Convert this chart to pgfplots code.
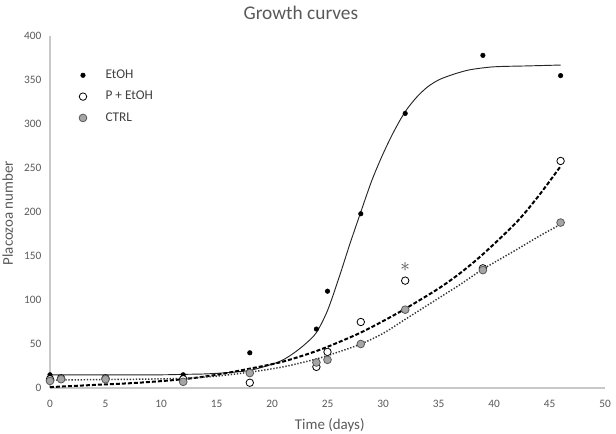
\documentclass[border=0pt]{standalone}
\usepackage{fontspec}
\setmainfont{Carlito}
\usepackage{pgfplots}
\pgfplotsset{compat=1.18}
\definecolor{txt}{HTML}{595959}
\definecolor{legtxt}{HTML}{404040}
\definecolor{axln}{HTML}{C8C8C8}
\definecolor{ctrlfill}{HTML}{A5A5A5}
\definecolor{ctrledge}{HTML}{595959}
\begin{document}
\begin{tikzpicture}
\begin{axis}[
  width=416.25pt, height=264pt, scale only axis,
  xmin=0, xmax=50, ymin=0, ymax=400,
  xtick={0,5,...,50}, ytick={0,50,...,400},
  axis x line*=bottom, axis y line*=left,
  axis line style={axln, line width=0.8pt, -},
  major tick length=0pt,
  tick label style={font=\fontsize{8.5}{10}\selectfont, text=txt},
  /pgf/number format/assume math mode=true,
  xticklabel style={yshift=-5.5pt},
  yticklabel style={xshift=-3pt},
  xlabel={Time (days)},
  ylabel={Placozoa number},
  xlabel style={font=\fontsize{11.2}{13}\selectfont, text=txt, at={(rel axis cs:0.504,-0.105)}, anchor=center},
  ylabel style={font=\fontsize{11.2}{13}\selectfont, text=txt, at={(rel axis cs:-0.076,0.497)}, anchor=center},
  legend style={draw=none, fill=none, at={(rel axis cs:0.052,0.91)}, anchor=north west,
    font=\fontsize{10}{12}\selectfont, text=legtxt, row sep=5pt, inner sep=0pt,
    nodes={inner sep=1pt, text height=7pt, text depth=2pt},
    /tikz/every odd column/.append style={column sep=13pt}},
  legend cell align=left,
  clip=false,
]
% fitted curves
\addplot[black!85, line width=0.7pt, smooth, forget plot] coordinates {
 (0,15) (5,15) (10,15) (12,15.5) (14,16) (16,17.5) (18,20) (20,27) (21,32) (22,40)
 (23,50) (24,63) (25,88) (26,124) (27,163) (28,200) (29,236) (30,266) (31,292)
 (32,314) (33,330) (34,342) (35,350) (36,355) (37,359) (38,362) (40,365) (43,366) (46,367)};
\addplot[black, line width=1.5pt, dash pattern=on 3pt off 1.5pt, smooth, forget plot] coordinates {
 (0,1) (4,3.5) (8,6) (12,10) (15,15) (18,22) (21,30) (24,42) (26,52) (28,63) (30,76)
 (32,90) (35,113) (37,131) (39,152) (42,188) (44,218) (46,252)};
\addplot[black!80, line width=1.1pt, dash pattern=on 1pt off 1.3pt, smooth, forget plot] coordinates {
 (0,9) (4,9.5) (8,10) (12,11) (15,13.5) (18,18) (21,24) (24,33) (26,41) (28,50) (30,62)
 (32,78) (35,102) (37,118) (39,135) (42,157) (44,172) (46,186)};
% data points
\addplot[only marks, mark=*, mark size=1.7pt, black] coordinates {
 (0,15) (12,15) (18,40) (24,67) (25,110) (28,198) (32,312) (39,378) (46,355)};
\addlegendentry{EtOH}
\addplot[only marks, mark=*, mark size=2.8pt, mark options={fill=white, draw=black, line width=0.6pt}] coordinates {
 (0,10) (1,11) (5,11) (12,10) (18,6) (24,24) (25,41) (28,75) (32,122) (39,136) (46,258)};
\addlegendentry{P + EtOH}
\addplot[only marks, mark=*, mark size=2.9pt, mark options={fill=ctrlfill, draw=ctrledge, line width=0.6pt}] coordinates {
 (0,8) (1,10) (5,10) (12,7) (18,17) (24,29) (25,32) (28,50) (32,89) (39,134) (46,188)};
\addlegendentry{CTRL}
\node[font=\fontsize{14}{14}\selectfont, text=black!70] at (axis cs:32,138) {$\mathbf{\ast}$};
\node[font=\fontsize{14.5}{16}\selectfont, text=txt] at (rel axis cs:0.452,1.066) {Growth curves};
\coordinate (O) at (rel axis cs:0,0);
\coordinate (T) at (rel axis cs:1,1);
\end{axis}
\pgfresetboundingbox
\path[use as bounding box] ([xshift=-37.5pt,yshift=-34.5pt]O) rectangle ([xshift=8.25pt,yshift=27pt]T);
\end{tikzpicture}
\end{document}
